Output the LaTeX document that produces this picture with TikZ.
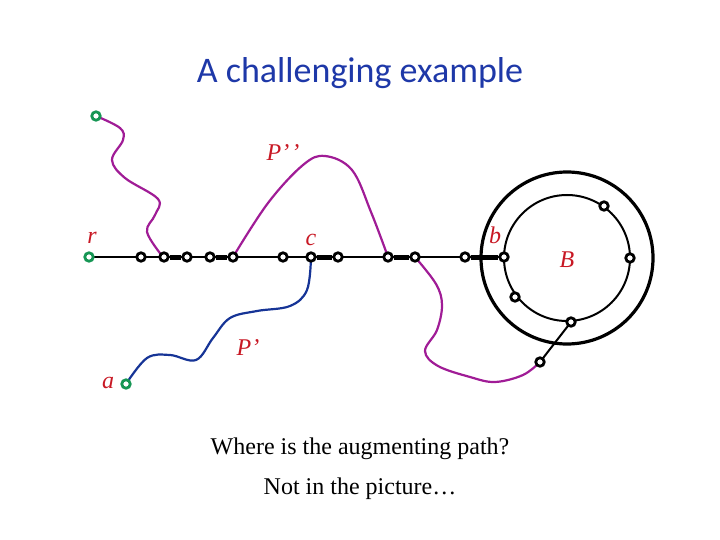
\documentclass[tikz,border=0pt]{standalone}
\usepackage{fontspec}
\setmainfont{Liberation Serif}
\newfontfamily\titlefont{Carlito}
\usetikzlibrary{backgrounds}
\definecolor{titleblue}{RGB}{30,56,168}
\definecolor{lblred}{RGB}{200,24,36}
\definecolor{pathpurple}{RGB}{160,28,150}
\definecolor{pathblue}{RGB}{22,52,150}
\definecolor{rootgreen}{RGB}{22,150,84}

\begin{document}
\begin{tikzpicture}[line cap=round, line join=round, x=1pt, y=-1pt,
  vtx/.style={circle, draw, fill=white, line width=2.8pt, inner sep=0pt, minimum size=8.5pt},
  gvtx/.style={vtx, draw=rootgreen},
  lbl/.style={text=lblred, font=\fontsize{24}{24}\selectfont\itshape},
  thin edge/.style={line width=2pt},
  match edge/.style={line width=5pt},
  curvy/.style={line width=2.2pt}]
  \useasboundingbox (0,0) rectangle (720,540);
  \node[text=titleblue, font=\titlefont\fontsize{36}{36}\selectfont] (title) at (360,73) {A challenging example};
  % blossom
  \coordinate (ctr) at (567,258);
  \draw[line width=3.2pt] (ctr) circle (86);
  \draw[line width=2pt] (ctr) circle (63);
  % vertices
  \node[gvtx] (top) at (96,116) {};
  \node[gvtx] (r) at (89,257) {};
  \node[gvtx] (a) at (126,384) {};
  \foreach \n/\x in {v1/141, v2/164, v3/187, v4/210, v5/233, v6/283, c/311, v7/338, v8/388, v9/415, v10/465, b/504}
    \node[vtx] (\n) at (\x,257) {};
  \node[vtx] (w1) at (604,206) {};
  \node[vtx] (w2) at (630,258) {};
  \node[vtx] (w3) at (515,297) {};
  \node[vtx] (w4) at (571,322) {};
  \node[vtx] (w5) at (540,362) {};
  \begin{scope}[on background layer]
    \draw[thin edge] (r.center) -- (b.center);
    \draw[thin edge] (w4.center) -- (w5.center);
    \draw[match edge] (v2) -- (v3);
    \draw[match edge] (v4) -- (v5);
    \draw[match edge] (c) -- (v7);
    \draw[match edge] (v8) -- (v9);
    \draw[match edge] (v10) -- (b);
    % alternating paths
    \draw[curvy, pathpurple] plot[smooth, tension=0.6] coordinates {(top.center) (120,128) (123,140) (112,160) (125,178) (158,199) (155,215) (147,232) (163,257)};
    \draw[curvy, pathpurple] plot[smooth, tension=0.6] coordinates {(v5.center) (268,203) (303,165) (325,156) (352,170) (371,212) (388,257)};
    \draw[curvy, pathpurple] plot[smooth, tension=0.6] coordinates {(v9.center) (436,284) (442,305) (437,330) (425,351) (438,366) (470,377) (495,382) (523,375) (w5.center)};
    \draw[curvy, pathblue] plot[smooth, tension=0.6] coordinates {(c.center) (307,290) (290,306) (257,311) (230,318) (213,338) (196,360) (170,355) (147,358) (a.center)};
  \end{scope}
  % labels
  \node[lbl] (rlbl) at (92,238) {r};
  \node[lbl] (clbl) at (311,240) {c};
  \node[lbl] (blbl) at (495,235) {b};
  \node[lbl] (Blbl) at (567,260) {B};
  \node[lbl] (Ppp) at (283,153) {P’\kern2pt’};
  \node[lbl] (Pp) at (248,348) {P’};
  \node[lbl] (albl) at (108,383) {a};
  \node[font=\fontsize{24}{24}\selectfont] (q) at (360,449) {Where is the augmenting path?};
  \node[font=\fontsize{24}{24}\selectfont] (ans) at (360,489) {Not in the picture…};
\end{tikzpicture}
\end{document}
